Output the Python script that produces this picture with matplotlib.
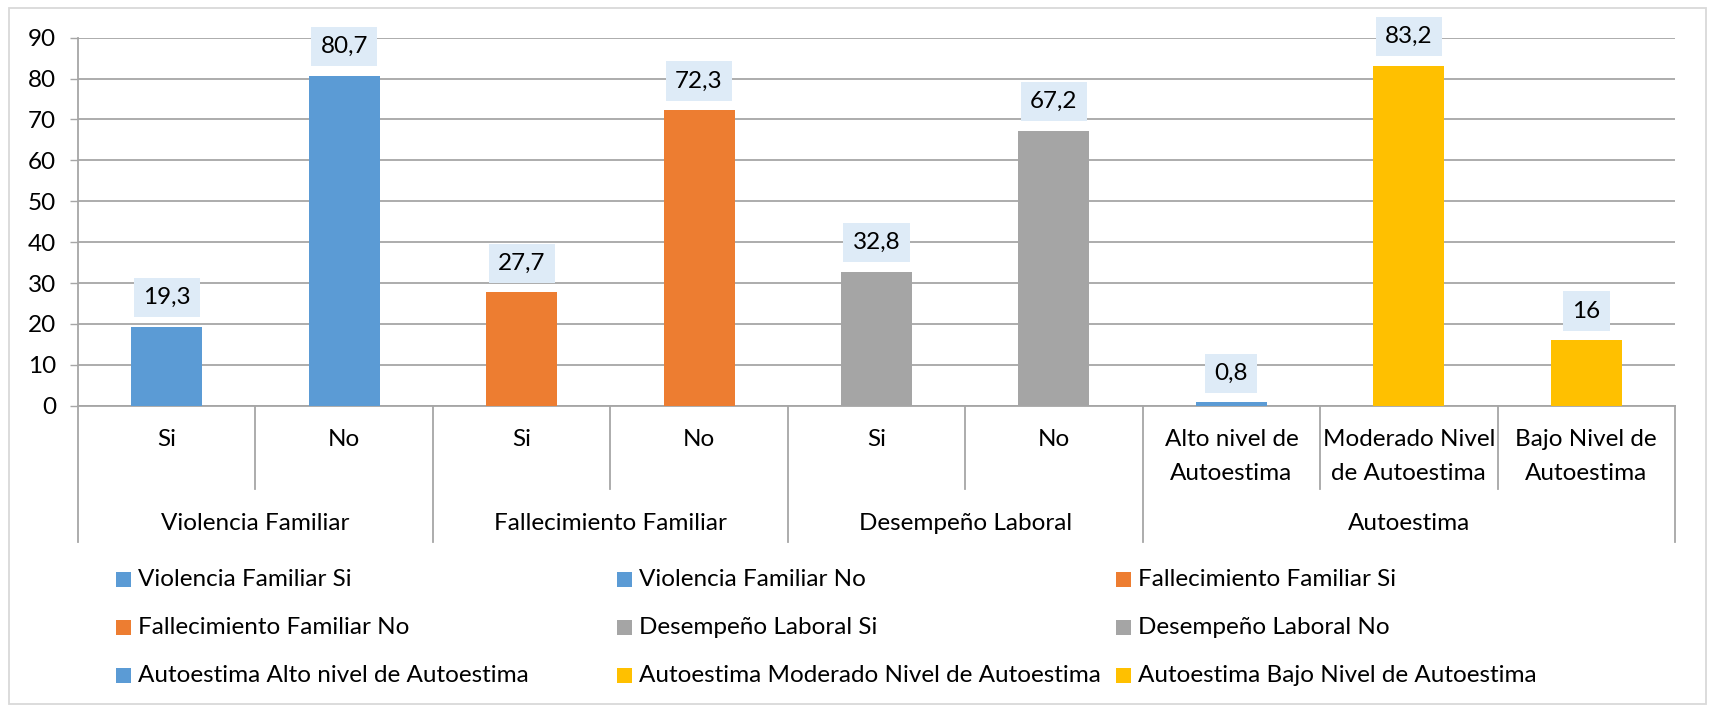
import matplotlib
matplotlib.use('Agg')
import matplotlib.pyplot as plt
from matplotlib.patches import Rectangle
import numpy as np

plt.rcParams['font.family'] = ['Lato', 'DejaVu Sans']

# ---- data ----
groups = ['Violencia Familiar', 'Fallecimiento Familiar', 'Desempeño Laboral', 'Autoestima']
group_sizes = [2, 2, 2, 3]
categories = ['Si', 'No', 'Si', 'No', 'Si', 'No',
              'Alto nivel de\nAutoestima', 'Moderado Nivel\nde Autoestima', 'Bajo Nivel de\nAutoestima']
values = [19.3, 80.7, 27.7, 72.3, 32.8, 67.2, 0.8, 83.2, 16]
value_labels = ['19,3', '80,7', '27,7', '72,3', '32,8', '67,2', '0,8', '83,2', '16']
series_names = ['Violencia Familiar Si', 'Violencia Familiar No', 'Fallecimiento Familiar Si',
                'Fallecimiento Familiar No', 'Desempeño Laboral Si', 'Desempeño Laboral No',
                'Autoestima Alto nivel de Autoestima', 'Autoestima Moderado Nivel de Autoestima',
                'Autoestima Bajo Nivel de Autoestima']
colors = ['#5B9BD5', '#5B9BD5', '#ED7D31', '#ED7D31', '#A5A5A5', '#A5A5A5',
          '#5B9BD5', '#FFC000', '#FFC000']
y_ticks = [0, 10, 20, 30, 40, 50, 60, 70, 80, 90]

# ---- layout ----
W, H = 1710, 708
FS = 17.5
fig = plt.figure(figsize=(W / 100, H / 100), dpi=100)
px_l, px_r, px_t, px_b = 78, 1675, 37.7, 405.7
ax = fig.add_axes([px_l / W, 1 - px_b / H, (px_r - px_l) / W, (px_b - px_t) / H])
ax_h = px_b - px_t

def ay(ypix):
    return (px_b - ypix) / ax_h

grid_col = '#A6A6A6'
x = np.arange(len(values))
ax.bar(x, values, width=0.4, color=colors, zorder=3)
ax.set_xlim(-0.5, len(values) - 0.5)
ax.set_ylim(0, 90)
ax.set_yticks(y_ticks)
ax.set_yticklabels([str(t) for t in y_ticks], fontsize=FS, color='#000000')
ax.yaxis.grid(True, color=grid_col, lw=1.3)
ax.set_axisbelow(True)
ax.tick_params(axis='y', length=5.8, width=1.0, color=grid_col, pad=10)
ax.set_xticks([])
for s in ['top', 'right']:
    ax.spines[s].set_visible(False)
for s in ['left', 'bottom']:
    ax.spines[s].set_color(grid_col)
    ax.spines[s].set_linewidth(1.3)

# data labels
for xi, v, lbl in zip(x, values, value_labels):
    ax.annotate(lbl, (xi, v), xytext=(0, 21), textcoords='offset points',
                ha='center', va='center', fontsize=FS, color='#000000',
                bbox=dict(boxstyle='square,pad=0.38', fc='#DEEBF7', ec='none'), zorder=4)

# category axis (multi-level)
tr = ax.get_xaxis_transform()
bounds = np.cumsum([0] + group_sizes)
for k in range(len(values) + 1):
    yb = ay(541.7) if k in bounds else ay(489.3)
    ax.plot([k - 0.5, k - 0.5], [0, yb], transform=tr, color=grid_col, lw=1.3, clip_on=False)
for xi, cat in zip(x, categories):
    for j, line in enumerate(cat.split('\n')):
        ax.text(xi, ay(440 + 33 * j), line, transform=tr, ha='center', va='center',
                fontsize=FS, color='#000000')
for g, a, b in zip(groups, bounds[:-1], bounds[1:]):
    ax.text((a + b - 1) / 2, ay(524), g, transform=tr, ha='center', va='center',
            fontsize=FS, color='#000000')

# legend (3 columns, row-wise order)
col_x = [116, 617, 1116]
row_y = [579, 627, 675]
for i, (name, c) in enumerate(zip(series_names, colors)):
    r, cidx = divmod(i, 3)
    mx, my = col_x[cidx], row_y[r]
    fig.patches.append(Rectangle((mx / W, 1 - (my + 7.5) / H), 15 / W, 15 / H,
                                 transform=fig.transFigure, fc=c, ec='none'))
    fig.text((mx + 22) / W, 1 - my / H, name, ha='left', va='center', fontsize=FS, color='#000000')

# outer border
fig.patches.append(Rectangle((9 / W, 1 - 704 / H), (1706 - 9) / W, (704 - 8) / H,
                             transform=fig.transFigure, fill=False, ec='#D9D9D9', lw=1.3))

fig.savefig('out.png', dpi=100)
